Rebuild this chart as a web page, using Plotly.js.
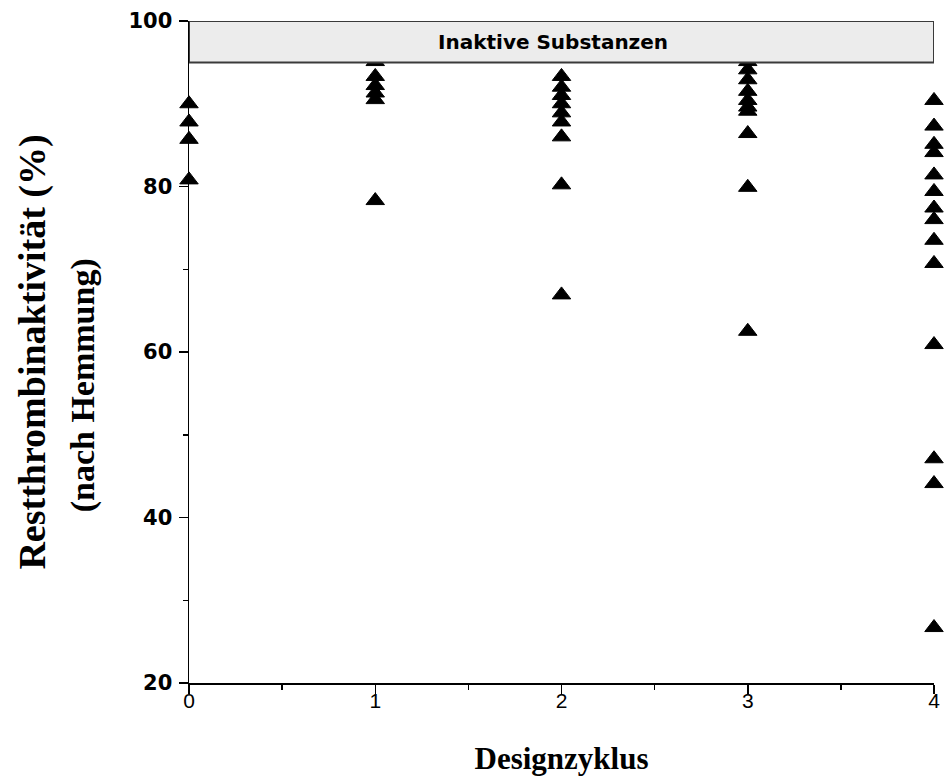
<!DOCTYPE html>
<html>
<head>
<meta charset="utf-8">
<script src="https://cdn.plot.ly/plotly-3.0.1.min.js"></script>
<style>html,body{margin:0;padding:0;background:#fff;}#chart{width:947px;height:778px;}</style>
</head>
<body>
<div id="chart"></div>
<script>
// Design cycles (x) and residual thrombin activity (%) per cycle
const cycles = [0, 1, 2, 3, 4];
const cycle0 = [90.0, 87.8, 85.7, 80.8];
const cycle1 = [95.1, 93.3, 92.2, 91.3, 90.5, 78.3];
const cycle2 = [93.3, 92.0, 91.0, 90.0, 88.9, 87.8, 86.0, 80.2, 66.9];
const cycle3 = [95.1, 94.1, 92.9, 91.5, 90.4, 89.6, 89.1, 86.4, 79.9, 62.5];
const cycle4 = [90.4, 87.3, 85.1, 84.1, 81.4, 79.4, 77.4, 76.0, 73.5, 70.7, 60.9, 47.1, 44.1, 26.7];
const xTickVals = [0, 1, 2, 3, 4];
const xTickText = ["0", "1", "2", "3", "4"];
const yTickVals = [20, 40, 60, 80, 100];
const yTickText = ["20", "40", "60", "80", "100"];
const inactiveLow = 95;
const inactiveHigh = 100;
const inactiveLabel = "Inaktive Substanzen";
const xTitle = "Designzyklus";
const yTitle1 = "Restthrombinaktivität (%)";
const yTitle2 = "(nach Hemmung)";

const series = [cycle0, cycle1, cycle2, cycle3, cycle4];
const xs = [], ys = [];
series.forEach((vals, i) => vals.forEach(v => { xs.push(cycles[i]); ys.push(v); }));

const trace = {
  x: xs, y: ys, type: 'scatter', mode: 'markers', cliponaxis: false,
  marker: {symbol: 'triangle-up', size: 16, color: '#000', line: {color: '#000', width: 1}},
  hoverinfo: 'x+y', showlegend: false
};

const layout = {
  width: 947, height: 778,
  margin: {l: 189, r: 13, t: 21, b: 95},
  paper_bgcolor: '#fff', plot_bgcolor: '#fff',
  showlegend: false,
  xaxis: {
    range: [0, 4], tickvals: xTickVals, ticktext: xTickText,
    showgrid: false, zeroline: false, showline: true, linecolor: '#000', linewidth: 1.5,
    ticks: 'outside', ticklen: 9, tickwidth: 1.5, tickcolor: '#000',
    minor: {ticks: 'outside', dtick: 0.5, ticklen: 5, tickwidth: 1.5, tickcolor: '#000', showgrid: false},
    tickfont: {family: 'Liberation Sans, Arial, sans-serif', size: 21, color: '#000'},
    ticklabelstandoff: -11,
    title: {text: xTitle, standoff: 36, font: {family: 'Liberation Serif, Times New Roman, serif', size: 31, color: '#000', weight: 'bold'}}
  },
  yaxis: {
    range: [20, 100], tickvals: yTickVals, ticktext: yTickText,
    showgrid: false, zeroline: false, showline: true, linecolor: '#000', linewidth: 1.5,
    ticks: 'outside', ticklen: 9, tickwidth: 1.5, tickcolor: '#000',
    minor: {ticks: 'outside', dtick: 10, ticklen: 5, tickwidth: 1.5, tickcolor: '#000', showgrid: false},
    tickfont: {family: 'DejaVu Sans, sans-serif', size: 21, color: '#000', weight: 'bold'},
    ticklabelstandoff: 2,
    title: {text: yTitle1, standoff: 71, font: {family: 'Liberation Serif, Times New Roman, serif', size: 38, color: '#000', weight: 'bold'}}
  },
  shapes: [{
    type: 'rect', xref: 'x', yref: 'y', x0: 0, x1: 4, y0: inactiveLow, y1: inactiveHigh,
    fillcolor: '#ececec', line: {color: '#3a3a3a', width: 2}, layer: 'above'
  }],
  annotations: [
    {x: 1.952, y: (inactiveLow + inactiveHigh) / 2, xref: 'x', yref: 'y', text: inactiveLabel, showarrow: false,
     font: {family: 'DejaVu Sans, sans-serif', size: 20, color: '#000', weight: 'bold'}},
    {x: -0.1420, y: 0.450, xref: 'paper', yref: 'paper', text: yTitle2, showarrow: false, textangle: -90,
     xanchor: 'center', yanchor: 'middle',
     font: {family: 'Liberation Serif, Times New Roman, serif', size: 34, color: '#000', weight: 'bold'}}
  ]
};

Plotly.newPlot('chart', [trace], layout, {displayModeBar: false, staticPlot: true});
</script>
</body>
</html>
